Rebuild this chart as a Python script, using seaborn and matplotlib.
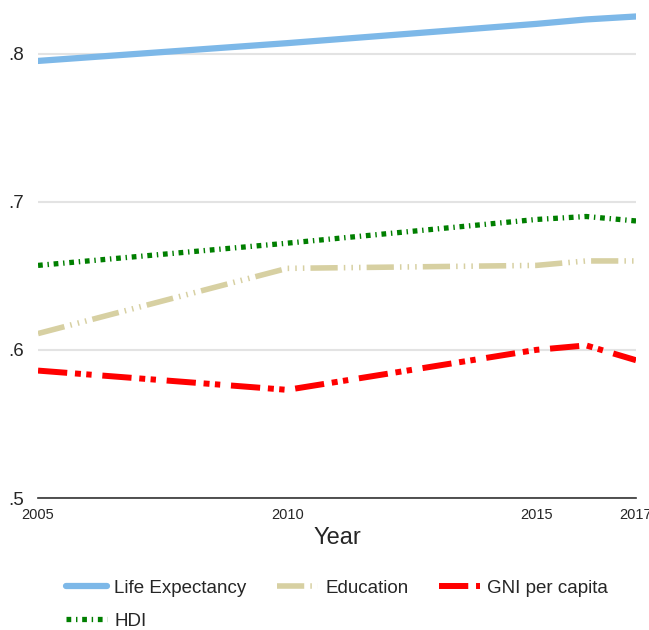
import pandas as pd
import matplotlib
matplotlib.use("Agg")
import matplotlib.pyplot as plt
import seaborn as sns

# data
years = [2005, 2010, 2015, 2016, 2017]
life_expectancy = [0.795, 0.807, 0.820, 0.823, 0.825]
education = [0.611, 0.655, 0.657, 0.660, 0.660]
gni_per_capita = [0.586, 0.573, 0.600, 0.603, 0.593]
hdi = [0.657, 0.672, 0.688, 0.690, 0.687]

series_names = ["Life Expectancy", "Education", "GNI per capita", "HDI"]
x_ticks = [2005, 2010, 2015, 2017]
y_ticks = [0.5, 0.6, 0.7, 0.8]
y_tick_labels = [".5", ".6", ".7", ".8"]

df = pd.DataFrame({
    "Year": years,
    "Life Expectancy": life_expectancy,
    "Education": education,
    "GNI per capita": gni_per_capita,
    "HDI": hdi,
})

styles = {
    "Life Expectancy": dict(color="#7db8e8", lw=4.5, ls="-"),
    "Education": dict(color="#d7d0a2", lw=4.0,
                      ls=(0, (4.9, 1.1, 0.27, 1.1, 0.27, 1.1, 0.27, 1.1))),
    "GNI per capita": dict(color="#ff0000", lw=4.3,
                           ls=(0, (4.9, 1.3, 1.0, 0.9, 0.9, 1.8))),
    "HDI": dict(color="#007f00", lw=3.8, ls=(0, (0.9, 0.9, 0.27, 0.9))),
}

sns.set_style("white")
plt.rcParams["font.family"] = ["Liberation Sans", "DejaVu Sans"]

fig = plt.figure(figsize=(6.49, 6.3), dpi=100)
ax = fig.add_axes([0.0586, 0.2095, 0.9214, 0.7714])

for name in series_names:
    st = styles[name]
    sns.lineplot(data=df, x="Year", y=name, ax=ax, label=name,
                 color=st["color"], linewidth=st["lw"], linestyle=st["ls"],
                 solid_capstyle="round")

ax.set_xlim(2005, 2017)
ax.set_ylim(0.5, 0.828)
ax.set_xticks(x_ticks)
ax.set_xticklabels([str(t) for t in x_ticks], fontsize=10.5)
ax.set_yticks(y_ticks)
ax.set_yticklabels(y_tick_labels, fontsize=13.5)
ax.tick_params(axis="y", length=0, pad=10)
ax.tick_params(axis="x", direction="in", length=7, width=1.2, color="#333333", pad=7)

ax.grid(axis="y", color="#e3e3e3", lw=1.5)
ax.set_axisbelow(True)
for side in ["left", "right", "top"]:
    ax.spines[side].set_visible(False)
ax.spines["bottom"].set_color("#333333")
ax.spines["bottom"].set_linewidth(1.2)

ax.set_xlabel("Year", fontsize=17, labelpad=4)
ax.set_ylabel("")

# legend is filled column-wise, so reorder to get a row-wise layout
handles, labels = ax.get_legend_handles_labels()
order = [0, 3, 1, 2]
ax.legend([handles[i] for i in order], [labels[i] for i in order],
          loc="upper center", bbox_to_anchor=(0.5, -0.152), ncol=3,
          frameon=False, fontsize=13.5, handlelength=2.2, handletextpad=0.4,
          columnspacing=1.6, labelspacing=0.85, borderaxespad=0)

fig.savefig("out.png", dpi=100)
